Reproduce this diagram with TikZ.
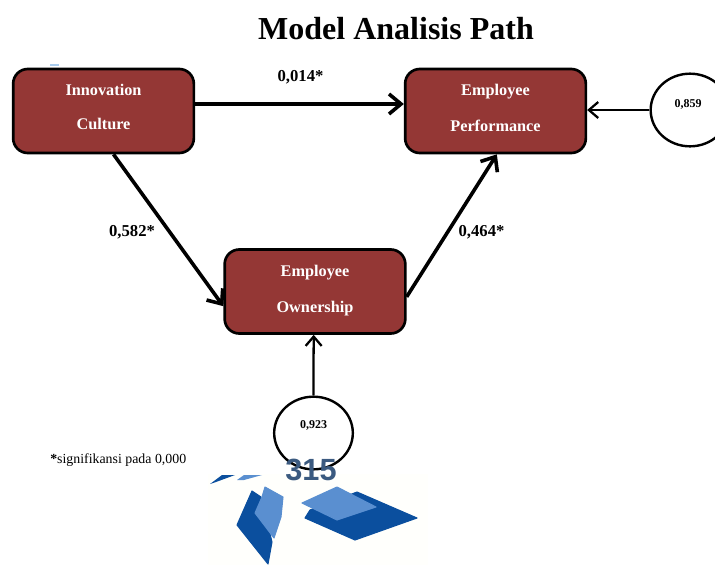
\documentclass[tikz,border=0pt]{standalone}
\usepackage{fontspec}
\setmainfont{Liberation Serif}
\setsansfont{Liberation Sans}
\usetikzlibrary{arrows.meta,shapes.geometric}
\definecolor{boxred}{HTML}{943735}
\definecolor{logodark}{HTML}{0B4F9E}
\definecolor{logolight}{HTML}{5A8FD0}
\definecolor{pagenum}{HTML}{3B5A80}
\definecolor{tick}{HTML}{A9CCEE}
\tikzset{
  x=0.75pt,y=-0.75pt,
  varbox/.style={draw=black,line width=2pt,fill=boxred,rounded corners=11pt,
    minimum width=135.5pt,minimum height=63pt,inner sep=0pt,text=white,
    font=\bfseries\fontsize{12.2}{14}\selectfont},
  errcircle/.style={draw=black,line width=1.8pt,ellipse,fill=white,minimum width=59pt,minimum height=54.5pt,inner sep=0pt,
    font=\bfseries\fontsize{9}{10}\selectfont},
  patharrow/.style={draw=black,line width=2.7pt,-{Straight Barb[length=9pt,width=15pt,line width=2.7pt]}},
  errarrow/.style={draw=black,line width=1.7pt,-{Straight Barb[length=7pt,width=12pt,line width=1.7pt]}},
  coef/.style={font=\bfseries\fontsize{12.5}{14}\selectfont,inner sep=0pt},
  logoD/.style={fill=logodark,draw=logodark,line width=0.8pt,line join=round},
  logoL/.style={fill=logolight,draw=logolight,line width=0.8pt,line join=round}
}
\newcommand{\boxlines}[4]{\begin{tabular}{@{}c@{}}#1\\[#4]#2\\[#3]\end{tabular}}
\begin{document}
\begin{tikzpicture}
\useasboundingbox (0,0) rectangle (715,565);
\node[font=\bfseries\fontsize{24}{28}\selectfont,inner sep=0pt] (title) at (396,28.5) {Model Analisis Path};
\fill[tick] (50,64) rectangle (59,66);

\node[varbox] (ic) at (103.5,111) {\boxlines{Innovation}{Culture}{3pt}{11.7pt}};
\node[varbox] (ep) at (495.5,111) {\boxlines{Employee}{Performance}{1.5pt}{13pt}};
\node[varbox] (eo) at (315,291.5) {\boxlines{Employee}{Ownership}{1.5pt}{13pt}};
\node[errcircle] (e1) at (690,110) {\hspace*{-3pt}\raisebox{10pt}{0,859}};
\node[errcircle] (e2) at (313.5,433) {\raisebox{12pt}{0,923}};

\draw[patharrow] ([yshift=5.25pt]ic.east) -- ([yshift=5.25pt]ep.west);
\draw[patharrow] ([xshift=7.5pt]ic.south) -- ([yshift=-11pt]eo.west);
\draw[patharrow] ([yshift=-4pt]eo.east) -- ([xshift=1pt]ep.south);
\draw[errarrow] (e1.west) -- ([yshift=0.75pt]ep.east);
\draw[errarrow] (e2.north) -- ([xshift=-1pt]eo.south);

\node[coef] (c1) at (300.5,77.5) {0,014*};
\node[coef] (c2) at (132,232) {0,582*};
\node[coef] (c3) at (481.5,232) {0,464*};
\node[anchor=west,inner sep=0pt,font=\fontsize{10.4}{12}\selectfont] (note) at (50,460) {\textbf{*}signifikansi pada 0,000};

\fill[white!99!yellow] (208,474) rectangle (428,565);
\fill[logodark] (210,484) -- (222,475) -- (235,475) -- (216,482) -- cycle;
\fill[logolight] (237,480) -- (244,475) -- (262,475) -- (244,480) -- cycle;
\path[logoD] (252,491) -- (261,497) -- (272,542) -- (268,564) -- (237,525) -- cycle;
\path[logoL] (265,487) -- (283,497) -- (281,517) -- (274,538) -- (255,513) -- (262,497) -- cycle;
\path[logoD] (357,492) -- (417,518) -- (355,540) -- (305,518) -- (310,510) -- cycle;
\path[logoL] (337,487) -- (376,507) -- (337,520) -- (302,503) -- cycle;
\node[font=\sffamily\bfseries\fontsize{23}{25}\selectfont,text=pagenum,inner sep=0pt] (page) at (311,470) {315};
\end{tikzpicture}
\end{document}
